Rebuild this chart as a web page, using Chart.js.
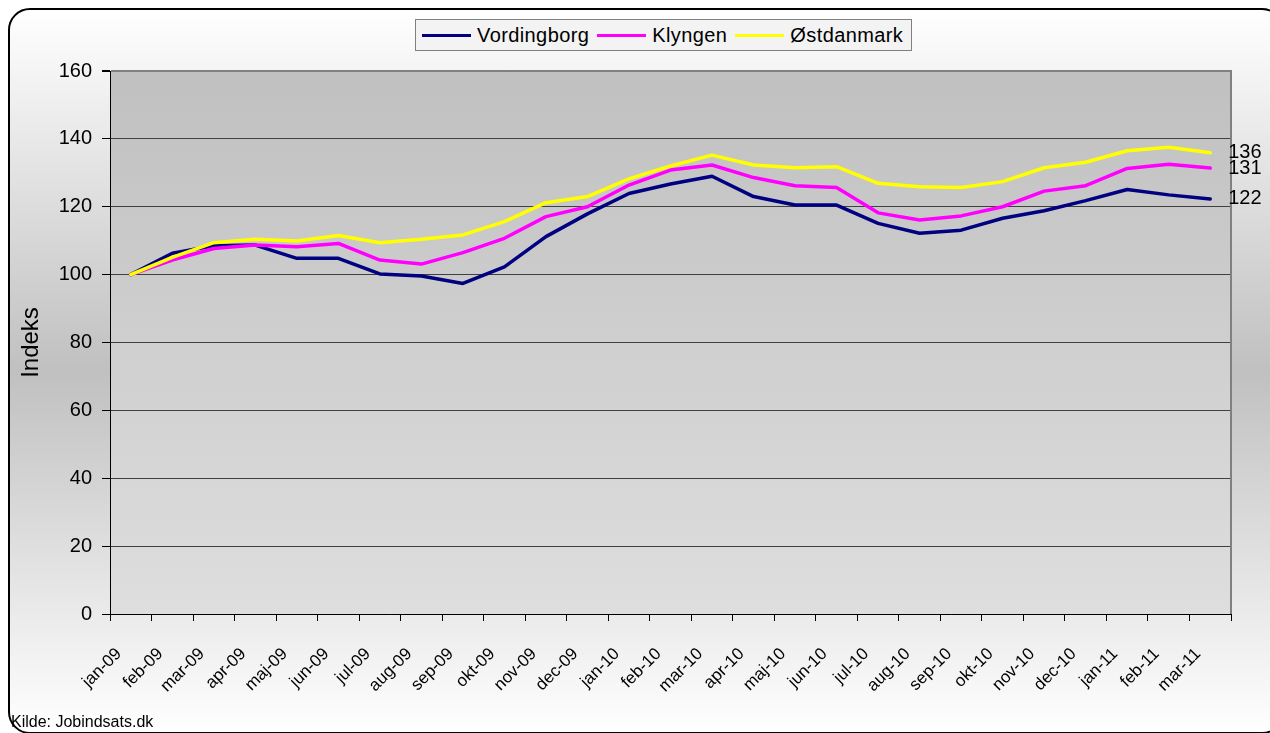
<!DOCTYPE html>
<html lang="da">
<head>
<meta charset="UTF-8">
<title>Indeks</title>
<style>
    html, body { margin: 0; padding: 0; background: #fff; overflow: hidden; }
    body { width: 1270px; height: 733px; position: relative; font-family: "Liberation Sans", Arial, sans-serif; }
    .panel {
        position: absolute; left: 8px; top: 8px;
        width: 1272px; height: 722px;
        border: 2px solid #000; border-radius: 22px;
        background: linear-gradient(to bottom, #ffffff 0%, #c0c0c0 50%, #ffffff 100%);
    }
    #myChart { position: absolute; left: 0; top: 0; }
    .legend {
        position: absolute; left: 415px; top: 19px; height: 32px;
        box-sizing: border-box; border: 1px solid #808080;
        background: #f3f3f3; display: flex; align-items: center;
        padding: 0 8px 0 6px; font-size: 20px; letter-spacing: 0.4px; color: #000;
    }
    .legend-item { display: flex; align-items: center; margin-right: 8px; }
    .legend-item:last-child { margin-right: 0; }
    .legend-line { width: 49px; height: 3px; margin-right: 6px; }
    .source { position: absolute; left: 11px; top: 713px; font-size: 16px; color: #000; }
</style>
</head>
<body>
<div class="panel"></div>
<canvas id="myChart" width="1270" height="733"></canvas>
<div class="legend" id="legend"></div>
<div class="source">Kilde: Jobindsats.dk</div>

<script src="https://cdn.jsdelivr.net/npm/chart.js"></script>
<script>
    const months = ['jan-09', 'feb-09', 'mar-09', 'apr-09', 'maj-09', 'jun-09', 'jul-09', 'aug-09', 'sep-09',
        'okt-09', 'nov-09', 'dec-09', 'jan-10', 'feb-10', 'mar-10', 'apr-10', 'maj-10', 'jun-10', 'jul-10',
        'aug-10', 'sep-10', 'okt-10', 'nov-10', 'dec-10', 'jan-11', 'feb-11', 'mar-11'];
    const vordingborg = [100, 106.3, 108.5, 108.7, 104.8, 104.8, 100.2, 99.6, 97.4, 102.3, 111.2, 117.9, 123.9,
        126.7, 129.0, 123.0, 120.5, 120.5, 115.1, 112.2, 113.1, 116.6, 118.8, 121.8, 125.1, 123.5, 122.3];
    const klyngen = [100, 104.3, 107.7, 108.7, 108.2, 109.2, 104.3, 103.1, 106.5, 110.7, 117.1, 120.0, 126.4,
        130.8, 132.3, 128.6, 126.2, 125.7, 118.2, 116.1, 117.3, 120.0, 124.6, 126.2, 131.3, 132.5, 131.4];
    const ostdanmark = [100, 105.1, 109.4, 110.4, 109.9, 111.5, 109.4, 110.4, 111.7, 115.6, 121.2, 123.0, 128.2,
        132.0, 135.2, 132.3, 131.5, 131.8, 126.9, 125.9, 125.7, 127.4, 131.5, 133.1, 136.5, 137.5, 135.9];
    const yTicks = [0, 20, 40, 60, 80, 100, 120, 140, 160];

    const FONT = '"Liberation Sans", Arial, sans-serif';

    // baggrund i plotområdet + grå kant til højre
    const plotBg = {
        id: 'plotBg',
        beforeDraw(chart) {
            const { ctx, chartArea: a } = chart;
            const g = ctx.createLinearGradient(0, a.top, 0, a.bottom);
            g.addColorStop(0, '#c0c0c0');
            g.addColorStop(1, '#dedede');
            ctx.save();
            ctx.fillStyle = g;
            ctx.fillRect(a.left, a.top, a.right - a.left, a.bottom - a.top);
            ctx.restore();
        },
        beforeDatasetsDraw(chart) {
            const { ctx, chartArea: a } = chart;
            ctx.save();
            ctx.strokeStyle = '#808080';
            ctx.lineWidth = 2;
            ctx.beginPath();
            ctx.moveTo(a.right, a.top - 1);
            ctx.lineTo(a.right, a.bottom);
            ctx.stroke();
            ctx.restore();
        }
    };

    // værdi ved sidste punkt
    const endLabels = {
        id: 'endLabels',
        afterDatasetsDraw(chart) {
            const ctx = chart.ctx;
            ctx.save();
            ctx.font = '20px ' + FONT;
            ctx.fillStyle = '#000';
            ctx.textBaseline = 'middle';
            chart.data.datasets.forEach((ds, i) => {
                const meta = chart.getDatasetMeta(i);
                const pt = meta.data[meta.data.length - 1];
                ctx.fillText(Math.round(ds.data[ds.data.length - 1]), pt.x + 18, pt.y);
            });
            ctx.restore();
        }
    };

    const chart = new Chart(document.getElementById('myChart'), {
        type: 'line',
        data: {
            labels: months,
            datasets: [
                { label: 'Vordingborg', data: vordingborg, borderColor: '#000080', order: 2 },
                { label: 'Klyngen', data: klyngen, borderColor: '#ff00ff', order: 1 },
                { label: 'Østdanmark', data: ostdanmark, borderColor: '#ffff00', order: 0 }
            ]
        },
        options: {
            responsive: false,
            animation: false,
            devicePixelRatio: 1,
            layout: { padding: { top: 71, right: 39, bottom: 0, left: 0 } },
            elements: {
                line: { borderWidth: 3.5, tension: 0, borderCapStyle: 'round', borderJoinStyle: 'round' },
                point: { radius: 0 }
            },
            plugins: {
                legend: { display: false },
                tooltip: { enabled: false }
            },
            scales: {
                x: {
                    offset: true,
                    afterFit: s => { s.height = 119; },
                    grid: { display: true, offset: true, drawOnChartArea: false, tickLength: 7, tickColor: '#000' },
                    border: { color: '#000', width: 1 },
                    ticks: {
                        autoSkip: false, minRotation: 45, maxRotation: 45, labelOffset: -12, padding: 23,
                        color: '#000', font: { family: FONT, size: 17 }
                    }
                },
                y: {
                    min: 0, max: 160,
                    afterFit: s => { s.width = 110; },
                    afterBuildTicks: s => { s.ticks = yTicks.map(v => ({ value: v })); },
                    grid: {
                        tickLength: 8, tickColor: '#000',
                        color: c => c.tick && c.tick.value === 160 ? '#808080' : '#404040',
                        lineWidth: c => c.tick && c.tick.value === 160 ? 2 : 1
                    },
                    border: { color: '#000', width: 1 },
                    ticks: { padding: 10, color: '#000', font: { family: FONT, size: 20 } },
                    title: {
                        display: true, text: 'Indeks', color: '#000',
                        font: { family: FONT, size: 24 }, padding: { top: 17, bottom: 0 }
                    }
                }
            }
        },
        plugins: [plotBg, endLabels]
    });

    // legende i boks
    const legendEl = document.getElementById('legend');
    chart.data.datasets.forEach(ds => {
        const item = document.createElement('div');
        item.className = 'legend-item';
        item.innerHTML = `<span class="legend-line" style="background:${ds.borderColor}"></span><span>${ds.label}</span>`;
        legendEl.appendChild(item);
    });
</script>
</body>
</html>
